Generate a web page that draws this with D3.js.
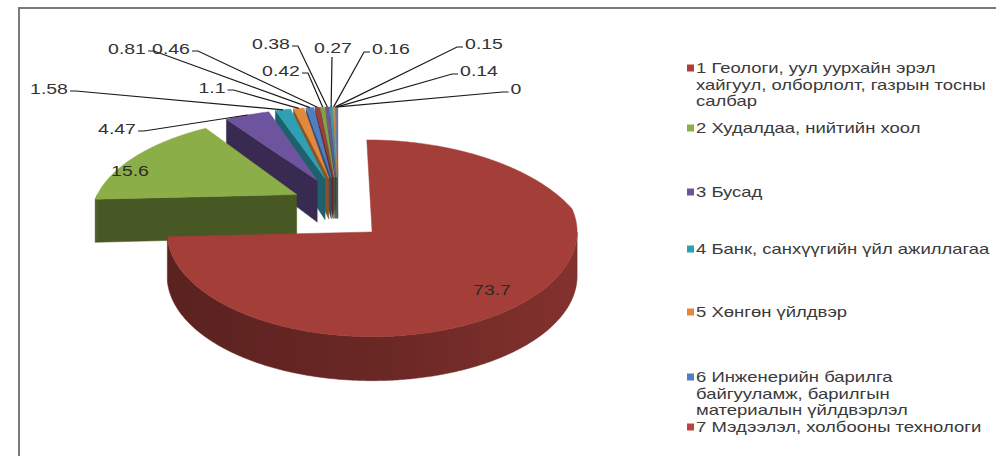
<!DOCTYPE html>
<html><head><meta charset="utf-8">
<script src="https://cdn.jsdelivr.net/npm/d3@7"></script>
<style>
body{margin:0;background:#fff}
svg{display:block}
text{font-family:"Liberation Sans",Arial,sans-serif}
</style>
</head><body>
<svg id="chart" width="996" height="456"></svg>
<script>
// ---------------- data ----------------
const values = [73.7, 15.6, 4.47, 1.58, 1.1, 0.81, 0.46, 0.42, 0.38, 0.27, 0.16, 0.15, 0.14, 0];
const valueLabels = ["73.7", "15.6", "4.47", "1.58", "1.1", "0.81", "0.46", "0.42", "0.38", "0.27", "0.16", "0.15", "0.14", "0"];
const sliceColors = ["#a43e39", "#8cae49", "#6e539e", "#2f9fb3", "#e4893c", "#4f7fc0",
                     "#9e3f3b", "#86a04a", "#6b5890", "#3f95a8", "#d58a45", "#5b86b8", "#b04a46", "#90a858"];
const legendNames = [
  ["1 Геологи, уул уурхайн эрэл", "хайгуул, олборлолт, газрын тосны", "салбар"],
  ["2 Худалдаа, нийтийн хоол"],
  ["3 Бусад"],
  ["4 Банк, санхүүгийн үйл ажиллагаа"],
  ["5 Хөнгөн үйлдвэр"],
  ["6 Инженерийн барилга", "байгууламж, барилгын", "материалын үйлдвэрлэл"],
  ["7 Мэдээлэл, холбооны технологи"]
];
const legendColors = ["#b23d3a", "#8cae49", "#6e539e", "#2f9fb3", "#e4893c", "#4f7fc0", "#c0423f"];

// ---------------- layout ----------------
const CX = 338, CY = 208.7, RX = 205, RY = 104.7, HZ = 44;
const QB = 0.2, QF = 0.0;            // perspective shrink behind / in front of the centre
const EXPL = 0.23, EXPL_Y = 1.4;     // explosion distance
const SX = 1.3, SX_LEG = 1.32;       // horizontal text stretch of the reference
// label layout: [x center, y center, kind]
const labelLayout = [
  [492, 290, "inside"], [130, 171, "inside"], [117, 129, "left"], [49, 89, "left"],
  [212, 88, "left"], [127, 49, "left"], [171, 49, "left"], [281, 71, "left"],
  [271, 44, "hook"], [333, 48, "down"], [391, 49, "right"], [484, 44, "right"],
  [479, 71, "right"], [516, 89, "right"]
];
const legendSquareX = 687, legendTextX = 696;
const legendFirstY = [68, 128, 192, 249, 312, 377, 427];
const legendLineH = 16.5;

const svg = d3.select("#chart");
const defs = svg.append("defs");

// frame
svg.append("path").attr("d", "M19,456 L19,8 L996,8").attr("fill", "none")
  .attr("stroke", "#7a7a7a").attr("stroke-width", 2);

// scales
const xScale = d3.scaleLinear().domain([-1, 1]).range([CX - RX, CX + RX]);
const yScale = d3.scaleLinear().domain([-1, 1]).range([CY - RY, CY + RY]);
function persp(Yf) { return Yf < 0 ? 1 + QB * Yf : 1 + QF * Yf; }
function proj(X, Yf, d) {
  const s = persp(Yf);
  return [xScale(X * s), yScale(Yf * s) + d * HZ * s];
}

const pie = d3.pie().sort(null).startAngle(0).endAngle(2 * Math.PI);
const arcs = pie(values).map((a, i) => {
  const mid = (a.startAngle + a.endAngle) / 2;
  return Object.assign(a, {i, mid, ox: Math.sin(mid) * EXPL, oy: -Math.cos(mid) * EXPL * EXPL_Y});
});

function pt(a, ang, r, d) {
  return proj(a.ox + r * Math.sin(ang), a.oy - r * Math.cos(ang), d);
}
function arcPts(a, a0, a1, d) {
  const n = Math.max(2, Math.ceil((a1 - a0) / 0.01));
  return d3.range(n + 1).map(k => pt(a, a0 + (a1 - a0) * k / n, 1, d));
}
const line = d3.line();

const gPie = svg.append("g");
const order = arcs.filter(a => a.value > 0).sort((p, q) => Math.cos(q.mid) - Math.cos(p.mid));

order.forEach(a => {
  const c = d3.color(sliceColors[a.i]);
  const g = gPie.append("g");
  const big = a.endAngle - a.startAngle > 0.15;
  const wallCol = c.darker(big ? 1.9 : 1.4).formatHex();
  // walls facing the viewer
  const walls = [];
  if (-Math.sin(a.startAngle) > 0.0001) walls.push(a.startAngle);
  if (Math.sin(a.endAngle) > 0.0001) walls.push(a.endAngle);
  walls.forEach(ang => {
    const p = [pt(a, 0, 0, 0), pt(a, ang, 1, 0), pt(a, ang, 1, 1), pt(a, 0, 0, 1)];
    g.append("path").attr("d", line(p) + "Z").attr("fill", wallCol)
      .attr("stroke", wallCol).attr("stroke-width", 0.5);
  });
  // outer side (front half)
  const b0 = Math.max(a.startAngle, Math.PI / 2), b1 = Math.min(a.endAngle, 3 * Math.PI / 2);
  if (b1 > b0) {
    const gid = "side" + a.i;
    const grad = defs.append("linearGradient").attr("id", gid)
      .attr("gradientUnits", "userSpaceOnUse")
      .attr("x1", CX - RX).attr("y1", 0).attr("x2", CX + RX + 60).attr("y2", 0);
    grad.append("stop").attr("offset", 0).attr("stop-color", c.darker(1.75).formatHex());
    grad.append("stop").attr("offset", 0.55).attr("stop-color", c.darker(1.2).formatHex());
    grad.append("stop").attr("offset", 1).attr("stop-color", c.darker(0.55).formatHex());
    const p = arcPts(a, b0, b1, 0).concat(arcPts(a, b0, b1, 1).reverse());
    g.append("path").attr("d", line(p) + "Z").attr("fill", `url(#${gid})`)
      .attr("stroke", c.darker(1.2).formatHex()).attr("stroke-width", 0.5);
  }
  // top face
  const top = [pt(a, 0, 0, 0)].concat(arcPts(a, a.startAngle, a.endAngle, 0));
  g.append("path").attr("d", line(top) + "Z").attr("fill", c.formatHex())
    .attr("stroke", c.formatHex()).attr("stroke-width", 0.5);
});

// value labels + leader lines
const gLab = svg.append("g");
arcs.forEach(a => {
  const [lx, ly, kind] = labelLayout[a.i];
  const t = gLab.append("text")
    .attr("transform", `translate(${lx},${ly}) scale(${SX},1)`)
    .attr("text-anchor", "middle").attr("dy", "0.36em")
    .attr("font-size", 15).attr("fill", kind === "inside" ? "#2b2b2b" : "#333")
    .text(valueLabels[a.i]);
  if (kind === "inside") return;
  const hw = t.node().getComputedTextLength() * SX / 2;
  const target = pt(a, a.mid, 1, 0);
  let pts;
  if (kind === "left" || kind === "hook") pts = [[lx + hw + 2, ly + 2], [lx + hw + 8, ly + 2], target];
  else if (kind === "right") pts = [[lx - hw - 2, ly + 3], [lx - hw - 8, ly + 3], target];
  else pts = [[lx - 1, ly + 9], target];
  gLab.append("path").attr("d", line(pts)).attr("fill", "none")
    .attr("stroke", "#1a1a1a").attr("stroke-width", 1.2);
});

// legend
const gLeg = svg.append("g");
legendNames.forEach((lines, i) => {
  const y0 = legendFirstY[i];
  gLeg.append("rect").attr("x", legendSquareX).attr("y", y0 - 3.5)
    .attr("width", 7).attr("height", 7).attr("fill", legendColors[i]);
  lines.forEach((s, k) => {
    gLeg.append("text")
      .attr("transform", `translate(${legendTextX},${y0 + k * legendLineH}) scale(${SX_LEG},1)`)
      .attr("dy", "0.36em").attr("font-size", 14).attr("fill", "#3a3a3a").text(s);
  });
});
</script>
</body></html>
